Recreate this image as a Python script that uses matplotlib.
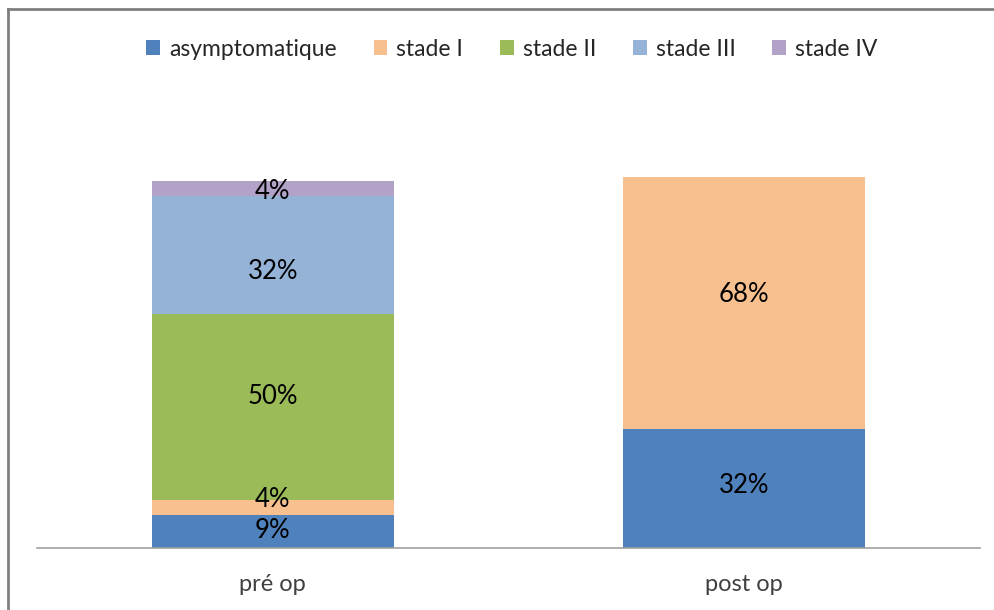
import matplotlib.pyplot as plt
from matplotlib.lines import Line2D
import numpy as np

plt.rcParams['font.family'] = ['Lato', 'DejaVu Sans']

# Répartition des stades (%) avant et après l'opération
categories = ['pré op', 'post op']
stades = ['asymptomatique', 'stade I', 'stade II', 'stade III', 'stade IV']
pre_op = [9, 4, 50, 32, 4]
post_op = [32, 68, 0, 0, 0]
couleurs = ['#4F81BD', '#F9C08F', '#9BBB59', '#95B3D7', '#B2A2C7']

# décalage vertical des étiquettes (pixels, positif = vers le haut)
decal_pre = [1, 8, 11, -17, -3]
decal_post = [3, 9, 0, 0, 0]

W, H = 995, 610
fig = plt.figure(figsize=(W / 100, H / 100), dpi=100)
# zone de tracé en pixels : x 37..980, base y=548, 100 % à y=177
ax = fig.add_axes([37 / W, 1 - 548 / H, (980 - 37) / W, (548 - 177) / H])

x = np.arange(len(categories))
valeurs = np.array([pre_op, post_op]).T
decalages = np.array([decal_pre, decal_post]).T
bas = np.zeros(len(categories))
for i, nom in enumerate(stades):
    bars = ax.bar(x, valeurs[i], bottom=bas, width=0.513, color=couleurs[i],
                  label=nom, clip_on=False)
    for j, b in enumerate(bars):
        v = valeurs[i][j]
        if v == 0:
            continue
        ax.annotate(f'{v}%', (b.get_x() + b.get_width() / 2, bas[j] + v / 2),
                    xytext=(0, decalages[i][j] * 0.72), textcoords='offset points',
                    ha='center', va='center', fontsize=18.5, color='black')
    bas += valeurs[i]

ax.set_xlim(-0.5, 1.5)
ax.set_ylim(0, 100)
ax.set_yticks([])
ax.set_xticks(x)
ax.set_xticklabels(categories, fontsize=17, color='#404040')
ax.tick_params(axis='x', length=0, pad=19)
for s in ['top', 'right', 'left']:
    ax.spines[s].set_visible(False)
ax.spines['bottom'].set_color('#A0A0A0')
ax.spines['bottom'].set_linewidth(1.2)

leg = ax.legend(loc='center', bbox_to_anchor=(512 / W, 1 - 49 / H), bbox_transform=fig.transFigure,
                ncol=5, frameon=False, fontsize=16.5, handlelength=0.6, handleheight=0.6,
                handletextpad=0.4, columnspacing=1.6)
for t in leg.get_texts():
    t.set_color('#262626')

# cadre gris (haut et gauche)
fig.add_artist(Line2D([8 / W, 1], [1 - 9 / H, 1 - 9 / H], transform=fig.transFigure,
                      color='#808080', lw=2))
fig.add_artist(Line2D([8 / W, 8 / W], [0, 1 - 9 / H], transform=fig.transFigure,
                      color='#808080', lw=2))

fig.savefig('out.png', dpi=100)
